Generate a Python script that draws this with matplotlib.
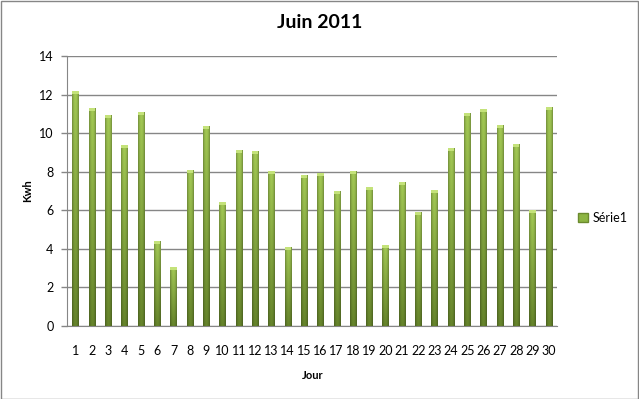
import matplotlib
matplotlib.use('Agg')
import matplotlib.pyplot as plt
import numpy as np
from matplotlib.patches import Rectangle

plt.rcParams['font.family'] = ['Lato', 'DejaVu Sans']

jours = list(range(1, 31))
kwh = [12.17, 11.28, 10.92, 9.37, 11.08, 4.39, 3.04, 8.07, 10.35, 6.41,
       9.11, 9.06, 8.02, 4.08, 7.81, 7.92, 6.98, 8.02, 7.19, 4.18,
       7.45, 5.89, 7.03, 9.21, 11.03, 11.23, 10.40, 9.42, 6.00, 11.34]
y_ticks = [0, 2, 4, 6, 8, 10, 12, 14]
titre = 'Juin 2011'
serie = 'Série1'


def bar_gradient():
    # light at top, darker at bottom, darker on the sides
    v = np.linspace(0, 1, 60)[:, None]
    u = np.linspace(-1, 1, 20)[None, :]
    top = np.array([0.64, 0.79, 0.33])
    bot = np.array([0.40, 0.52, 0.17])
    col = top * (1 - v[..., None]) + bot * v[..., None]
    side = 1 - 0.28 * np.abs(u[..., None]) ** 2
    return np.clip(col * side, 0, 1)


fig = plt.figure(figsize=(6.39, 3.99), dpi=100)
ax = fig.add_axes([0.1056, 0.183, 0.766, 0.6766])

bars = ax.bar(jours, kwh, width=0.39, color='#8db543', edgecolor='none',
              label=serie, zorder=3)
grad = bar_gradient()
for b in bars:
    x0 = b.get_x()
    im = ax.imshow(grad, extent=[x0, x0 + b.get_width(), 0, b.get_height()],
                   aspect='auto', zorder=4, interpolation='bilinear')
    im.set_clip_path(b)
    ax.add_patch(Rectangle((x0, b.get_height() - 0.12), b.get_width(), 0.12,
                           color='#c4e27a', zorder=5, lw=0))

ax.set_xlim(0.5, 30.5)
ax.set_ylim(0, 14)
ax.set_yticks(y_ticks)
ax.set_xticks(jours)
ax.tick_params(axis='x', length=0, pad=14, labelsize=9)
ax.tick_params(axis='y', length=4, width=1, color='#868686', labelsize=9, pad=6)
ax.yaxis.grid(True, color='#868686', lw=1, zorder=1)
ax.set_axisbelow(True)
for s in ['top', 'right']:
    ax.spines[s].set_visible(False)
for s in ['left', 'bottom']:
    ax.spines[s].set_color('#868686')

ax.set_xlabel('Jour', fontsize=8, fontweight='bold', labelpad=9)
ax.set_ylabel('Kwh', fontsize=8, fontweight='bold', labelpad=4)
fig.suptitle(titre, fontsize=14, fontweight='bold', y=0.965)

leg = ax.legend(loc='center left', bbox_to_anchor=(1.02, 0.4), frameon=False,
                fontsize=9, handlelength=0.8, handleheight=0.8, handletextpad=0.4)
leg.legend_handles[0].set_facecolor('#8db543')
leg.legend_handles[0].set_edgecolor('#6b8a2e')

fig.patches.append(Rectangle((0.001, 0.001), 0.997, 0.997, transform=fig.transFigure,
                             fill=False, edgecolor='#868686', lw=1))

fig.savefig('out.png', dpi=100)
